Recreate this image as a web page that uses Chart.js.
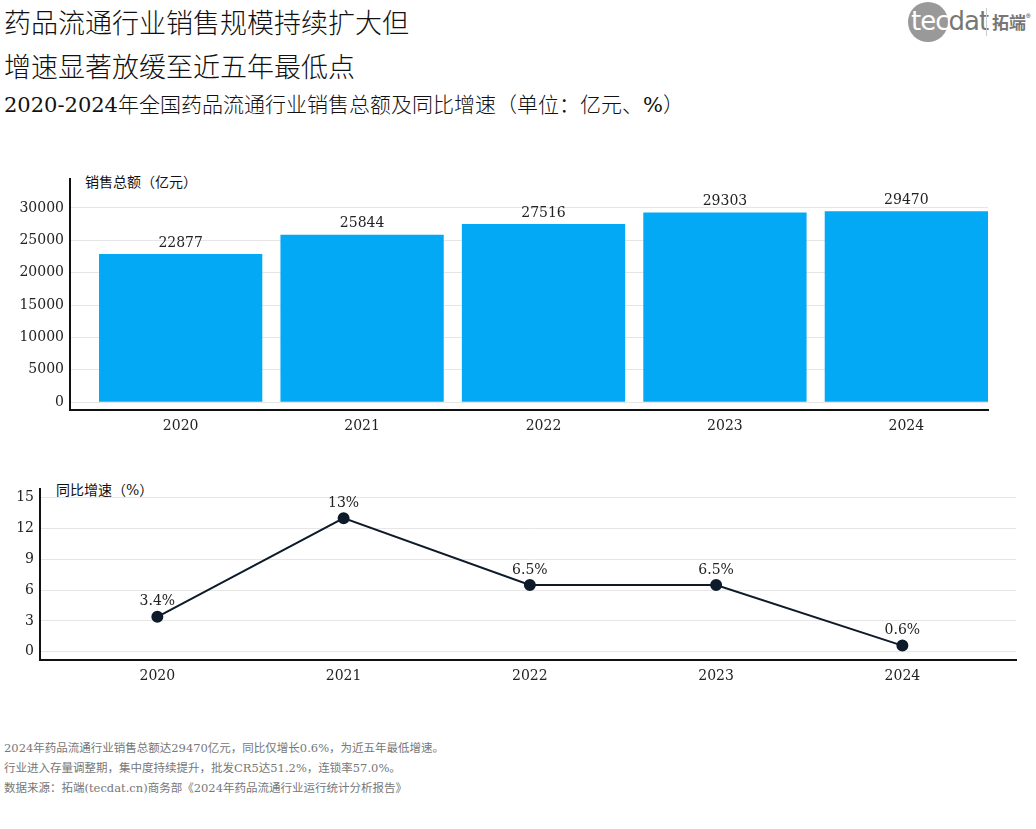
<!DOCTYPE html>
<html><head><meta charset="utf-8">
<script src="https://cdn.jsdelivr.net/npm/chart.js@4"></script>
<style>
body{margin:0;background:#fff;width:1036px;height:829px;position:relative;overflow:hidden;font-family:"DejaVu Serif","Noto Sans CJK SC",serif;color:#111}
.t{position:absolute;left:4px;white-space:nowrap}
canvas{position:absolute}
</style></head><body>
<div class="t" style="top:2px;font-size:27px;font-family:'Noto Sans CJK SC';font-weight:300">药品流通行业销售规模持续扩大但</div>
<div class="t" style="top:46px;font-size:27px;font-family:'Noto Sans CJK SC';font-weight:300">增速显著放缓至近五年最低点</div>
<div class="t" style="top:88px;font-size:21px;font-weight:300">2020-2024年全国药品流通行业销售总额及同比增速（单位：亿元、%）</div>
<div style="position:absolute;left:908px;top:2px;width:40px;height:40px;border-radius:50%;background:#999"></div>
<div style="position:absolute;left:911px;top:6px;font:26px 'DejaVu Sans';color:#fff;letter-spacing:-1px">tec<span style="color:#777">dat</span></div>
<div style="position:absolute;left:986px;top:8px;width:1px;height:28px;background:#ccc"></div>
<div style="position:absolute;left:992px;top:9px;font:bold 17px 'Noto Sans CJK SC';color:#777">拓端<sup style="font-size:9px">®</sup></div>
<div class="t" style="left:85px;top:171px;font-size:14px">销售总额（亿元）</div>
<div class="t" style="left:56px;top:479px;font-size:14px">同比增速（%）</div>
<canvas id="c1" style="left:0;top:165px"></canvas>
<canvas id="c2" style="left:0;top:475px"></canvas>
<div class="t" style="top:738px;font-size:11.5px;color:#777;line-height:20px">2024年药品流通行业销售总额达29470亿元，同比仅增长0.6%，为近五年最低增速。<br>行业进入存量调整期，集中度持续提升，批发CR5达51.2%，连锁率57.0%。<br>数据来源：拓端(tecdat.cn)商务部《2024年药品流通行业运行统计分析报告》</div>
<script>
const years = [2020, 2021, 2022, 2023, 2024];
const sales = [22877, 25844, 27516, 29303, 29470];
const growth = [3.4, 13, 6.5, 6.5, 0.6];
const growthLabels = ['3.4%', '13%', '6.5%', '6.5%', '0.6%'];
const salesTicks = [0, 5000, 10000, 15000, 20000, 25000, 30000];
const growthTicks = [0, 3, 6, 9, 12, 15];

const FONT = {family: '"DejaVu Serif","Noto Sans CJK SC",serif', size: 14};
const grid = {color: '#e6e6e6', drawTicks: false};
const border = {color: '#111', width: 2};

function setup(id, w, h) {
	const c = document.getElementById(id);
	c.width = w; c.height = h;
	return c.getContext('2d');
}

function labelPlugin(texts, dy) {
	return {
		id: 'lbl',
		afterDatasetsDraw(chart) {
			const ctx = chart.ctx;
			ctx.save();
			ctx.font = '14px ' + FONT.family;
			ctx.fillStyle = '#222';
			ctx.textAlign = 'center';
			ctx.textBaseline = 'bottom';
			chart.getDatasetMeta(0).data.forEach((el, i) => {
				ctx.fillText(texts[i], el.x, el.y - dy);
			});
			ctx.restore();
		}
	};
}

function xAxis(min, max) {
	return {
		type: 'linear', min, max, offset: false, bounds: 'ticks',
		grid: {display: false, drawTicks: false}, border,
		afterBuildTicks: s => { s.ticks = years.map(v => ({value: v})); },
		ticks: {color: '#222', font: FONT, padding: 8, callback: v => String(v), autoSkip: false, maxRotation: 0},
		afterFit: s => { s.height = 30; }
	};
}

function yTicks(list) {
	return s => { s.ticks = list.map(v => ({value: v})); };
}

new Chart(setup('c1', 1000, 275), {
	type: 'bar',
	data: {datasets: [{data: years.map((y, i) => ({x: y, y: sales[i]})), backgroundColor: '#03A9F4', barPercentage: 0.9, categoryPercentage: 1}]},
	options: {
		responsive: false, animation: false,
		layout: {padding: {top: 5, right: 12}},
		plugins: {legend: {display: false}, tooltip: {enabled: false}},
		scales: {
			x: xAxis(2019.39, 2024.45),
			y: {
				min: -1200, max: 34400, grid, border,
				afterBuildTicks: yTicks(salesTicks),
				ticks: {color: '#222', font: FONT, padding: 6, callback: v => String(v)},
				afterFit: s => { s.width = 70; }
			}
		}
	},
	plugins: [labelPlugin(sales.map(String), 4)]
});

new Chart(setup('c2', 1030, 215), {
	type: 'line',
	data: {datasets: [{data: years.map((y, i) => ({x: y, y: growth[i]})), borderColor: '#0d1b2a', borderWidth: 2, pointBackgroundColor: '#0d1b2a', pointBorderColor: '#0d1b2a', pointRadius: 5, tension: 0}]},
	options: {
		responsive: false, animation: false,
		layout: {padding: {top: 5, right: 14}},
		plugins: {legend: {display: false}, tooltip: {enabled: false}},
		scales: {
			x: xAxis(2019.37, 2024.61),
			y: {
				min: -0.8, max: 15.8, grid, border,
				afterBuildTicks: yTicks(growthTicks),
				ticks: {color: '#222', font: FONT, padding: 6},
				afterFit: s => { s.width = 40; }
			}
		}
	},
	plugins: [labelPlugin(growthLabels, 8)]
});
</script>
</body></html>
